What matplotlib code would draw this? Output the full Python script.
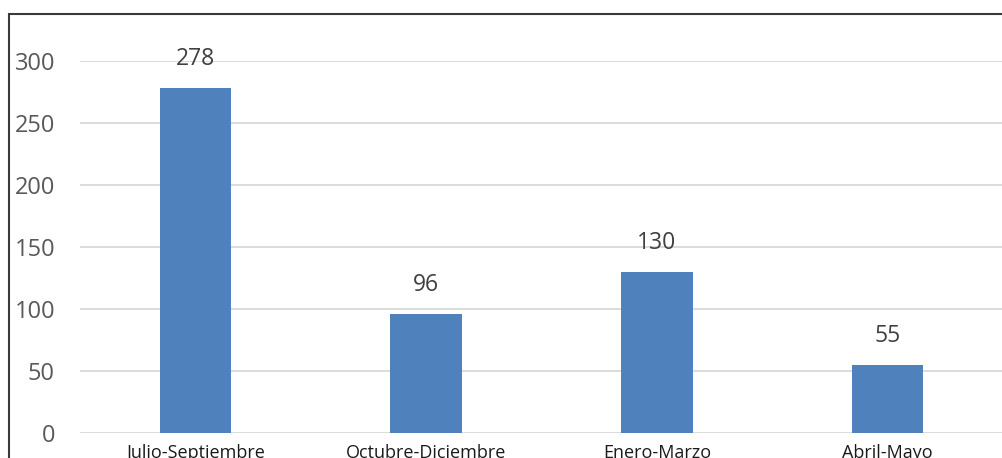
import matplotlib.pyplot as plt
from matplotlib.patches import Rectangle

categories = ["Julio-Septiembre", "Octubre-Diciembre", "Enero-Marzo", "Abril-Mayo"]
values = [278, 96, 130, 55]
yticks = [0, 50, 100, 150, 200, 250, 300]

W, H = 1003, 458
fig = plt.figure(figsize=(W / 100, H / 100), dpi=100)
plt.rcParams["font.family"] = ["Open Sans", "DejaVu Sans"]

# outer chart frame (cut off on right and bottom)
fig.patches.append(Rectangle((9 / W, -0.1), 1.2, (458 - 14) / H + 0.1,
                             transform=fig.transFigure, fill=False,
                             edgecolor="#3a3a3a", linewidth=1.5))

ax = fig.add_axes([80 / W, (H - 433) / H, (W - 80) / W, (433 - 61) / H])
ax.set_xlim(-0.5, len(categories) - 0.5)
ax.set_ylim(0, 300)

ax.bar(range(len(categories)), values, width=0.31, color="#4F81BD", zorder=3)

for i, v in enumerate(values):
    ax.annotate(str(v), (i, v), xytext=(0, 17), textcoords="offset pixels",
                ha="center", va="bottom", fontsize=16.5, color="#404040",
                annotation_clip=False)

ax.set_yticks(yticks)
ax.set_yticklabels([str(t) for t in yticks], fontsize=17, color="#595959")
ax.set_xticks(range(len(categories)))
ax.set_xticklabels(categories, fontsize=13, color="#1a1a1a")
ax.tick_params(axis="y", length=0, pad=18)
ax.tick_params(axis="x", length=0, pad=8)
ax.grid(axis="y", color="#d9d9d9", linewidth=1.3, zorder=0)
for s in ax.spines.values():
    s.set_visible(False)

fig.savefig("out.png", dpi=100)
